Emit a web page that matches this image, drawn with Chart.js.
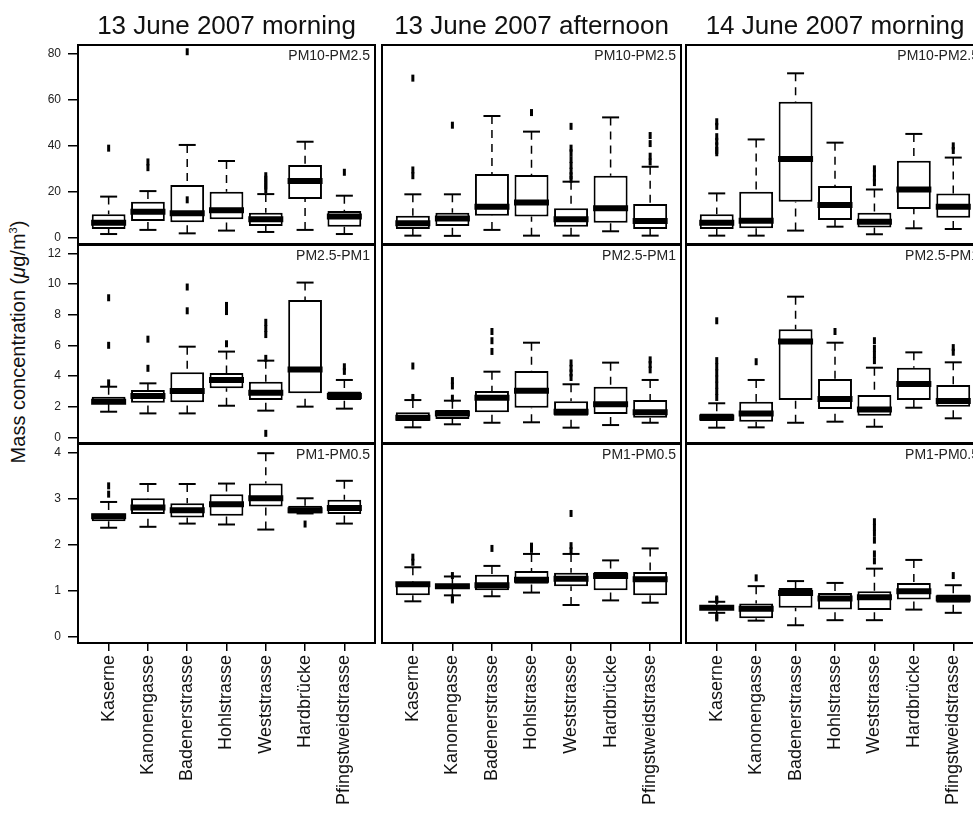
<!DOCTYPE html>
<html>
<head>
<meta charset="utf-8">
<script src="https://cdn.jsdelivr.net/npm/chart.js@4.4.0/dist/chart.umd.min.js"></script>
<style>
  body { margin: 0; background: #fff; overflow: hidden; width: 973px; height: 813px; position: relative;
         font-family: "Liberation Sans", Arial, sans-serif; }
  canvas { position: absolute; }
  #ylab { position: absolute; left: 18px; top: 342px; transform: translate(-50%, -50%) rotate(-90deg);
          white-space: nowrap; font-size: 20px; color: #111; }
  #ylab sup { font-size: 11px; }
</style>
</head>
<body>
<div id="ylab">Mass concentration (<i>μ</i>g/m<sup>3</sup>)</div>
<script>
// categories and panel labels
const sites = ['Kaserne', 'Kanonengasse', 'Badenerstrasse', 'Hohlstrasse', 'Weststrasse', 'Hardbrücke', 'Pfingstweidstrasse'];
const days = ['13 June 2007 morning', '13 June 2007 afternoon', '14 June 2007 morning'];
const fractions = ['PM10-PM2.5', 'PM2.5-PM1', 'PM1-PM0.5'];

// tick labels
const ticksPM10 = [0, 20, 40, 60, 80];
const ticksPM25 = [0, 2, 4, 6, 8, 10, 12];
const ticksPM1 = [0, 1, 2, 3, 4];

// box stats per site: [lower whisker, q1, median, q3, upper whisker]
const pm10_13am = [[1.6, 3.8, 6.5, 10.2, 17.9], [3.4, 7.3, 11.3, 15.7, 20.3], [1.9, 6.7, 10.6, 23, 40.4], [3.1, 8, 12, 20, 33.4], [2.5, 5.1, 8, 10.9, 19], [3.4, 16.9, 24.7, 31.7, 41.8], [1.6, 4.8, 9.2, 11.6, 18.3]];
const pm10_13am_out = [[39], [33, 30.5], [81, 16.5], [], [27, 25.5, 24, 22.5, 21], [], [28.5]];
const pm10_13pm = [[0.9, 3.8, 6.3, 9.6, 18.9], [0.8, 5.1, 8.4, 10.9, 18.9], [3.4, 9.6, 13.5, 27.7, 53], [0.9, 9.2, 15.3, 27.3, 46.2], [0.9, 4.8, 8, 12.8, 24.4], [2.8, 6.5, 12.8, 27, 52.4], [0.9, 3.8, 7.3, 14.7, 30.9]];
const pm10_13pm_out = [[69.5, 29.5, 27], [49], [], [54.5], [48.5, 39, 37, 34, 31.5, 29, 27, 25.5], [], [44.5, 41, 35.5, 33]];
const pm10_14am = [[0.9, 3.8, 6.5, 10.2, 19.3], [0.9, 4.1, 7.4, 20, 42.8], [3.1, 15.7, 34.3, 59.2, 71.6], [4.8, 7.7, 14.2, 22.5, 41.4], [1.5, 4.5, 7, 10.9, 21], [4.1, 12.5, 21, 33.5, 45.2], [3.8, 8.7, 13.5, 19.3, 34.9]];
const pm10_14am_out = [[50.5, 48.5, 44, 42, 40, 38, 37], [], [], [], [30, 28, 26, 24], [], [40, 38]];

const pm25_13am = [[1.67, 2.17, 2.32, 2.65, 3.3], [1.56, 2.26, 2.7, 3.09, 3.52], [1.56, 2.28, 3.02, 4.24, 5.91], [2.06, 3.2, 3.74, 4.2, 5.59], [1.74, 2.43, 2.91, 3.63, 5.0], [2.0, 2.87, 4.43, 8.96, 10.09], [1.87, 2.43, 2.69, 2.98, 3.74]];
const pm25_13am_out = [[9.1, 6.0, 3.55], [6.4, 4.5], [9.8, 8.25], [8.6, 8.2, 6.1], [7.5, 7.1, 6.7, 5.15, 0.26], [], [4.6, 4.3]];
const pm25_13pm = [[0.65, 1.06, 1.28, 1.63, 2.43], [0.85, 1.19, 1.56, 1.78, 2.39], [0.95, 1.63, 2.58, 3.02, 4.28], [0.98, 1.93, 3.04, 4.32, 6.17], [0.63, 1.41, 1.67, 2.35, 3.46], [0.8, 1.52, 2.15, 3.3, 4.87], [0.95, 1.28, 1.63, 2.43, 3.74]];
const pm25_13pm_out = [[4.65, 2.6], [3.7, 3.35, 2.55], [6.9, 6.3, 5.6], [], [4.85, 4.5, 4.2, 3.9], [], [5.05, 4.75, 4.4]];
const pm25_14am = [[0.63, 1.06, 1.3, 1.56, 2.22], [0.65, 1.02, 1.56, 2.32, 3.74], [0.95, 2.43, 6.24, 7.04, 9.17], [1.02, 1.85, 2.5, 3.8, 6.17], [0.69, 1.41, 1.82, 2.76, 4.54], [1.93, 2.43, 3.48, 4.54, 5.54], [1.24, 2.0, 2.37, 3.41, 4.89]];
const pm25_14am_out = [[7.6, 5.0, 4.6, 4.2, 3.8, 3.4, 3.0, 2.6], [4.93], [], [6.9], [6.3, 5.8, 5.4, 5.0], [], [5.85, 5.55]];

const pm1_13am = [[2.37, 2.51, 2.62, 2.68, 2.93], [2.39, 2.67, 2.81, 3.01, 3.32], [2.46, 2.59, 2.75, 2.9, 3.32], [2.44, 2.63, 2.88, 3.1, 3.33], [2.33, 2.83, 3.01, 3.33, 3.99], [2.68, 2.68, 2.75, 2.85, 3.01], [2.46, 2.67, 2.8, 2.98, 3.39]];
const pm1_13am_out = [[3.28, 3.1], [], [], [], [], [2.45], []];
const pm1_13pm = [[0.77, 0.9, 1.14, 1.19, 1.51], [0.9, 1.06, 1.1, 1.15, 1.31], [0.88, 1.01, 1.12, 1.35, 1.54], [0.96, 1.15, 1.24, 1.43, 1.8], [0.69, 1.1, 1.26, 1.39, 1.8], [0.79, 1.01, 1.32, 1.41, 1.66], [0.74, 0.9, 1.25, 1.41, 1.92]];
const pm1_13pm_out = [[1.73, 1.62], [1.33, 0.84, 0.8], [1.92], [1.97, 1.9], [2.68, 1.98, 1.87], [], []];
const pm1_14am = [[0.52, 0.58, 0.63, 0.67, 0.76], [0.35, 0.4, 0.61, 0.72, 1.1], [0.25, 0.63, 0.95, 1.06, 1.21], [0.36, 0.59, 0.83, 0.95, 1.17], [0.36, 0.58, 0.86, 0.99, 1.48], [0.59, 0.81, 0.99, 1.17, 1.67], [0.52, 0.74, 0.83, 0.92, 1.12]];
const pm1_14am_out = [[0.82, 0.79, 0.45, 0.41], [1.28], [], [], [2.5, 2.38, 2.25, 2.1, 1.8, 1.65], [], [1.33]];

const panels = [
  [[pm10_13am, pm10_13am_out], [pm10_13pm, pm10_13pm_out], [pm10_14am, pm10_14am_out]],
  [[pm25_13am, pm25_13am_out], [pm25_13pm, pm25_13pm_out], [pm25_14am, pm25_14am_out]],
  [[pm1_13am, pm1_13am_out], [pm1_13pm, pm1_13pm_out], [pm1_14am, pm1_14am_out]]
];
const yTicks = [ticksPM10, ticksPM25, ticksPM1];
const yLimits = [[-2.74, 83.93], [-0.37, 12.54], [-0.136, 4.19]];

// panel frames in page pixels
const colEdges = [[78, 375], [382, 681], [686, 984]];
const rowEdges = [[45, 244], [245, 443], [444, 643]];

Chart.defaults.font.family = '"Liberation Sans", Arial, sans-serif';
Chart.defaults.color = '#111';

// frame round each panel + fraction label in the corner
const panelFrame = {
  id: 'panelFrame',
  afterDatasetsDraw(chart, args, opts) {
    const { ctx, chartArea: a } = chart;
    ctx.save();
    ctx.strokeStyle = '#000';
    ctx.lineWidth = 2;
    ctx.strokeRect(a.left, a.top, a.right - a.left, a.bottom - a.top);
    ctx.fillStyle = '#222';
    ctx.font = '14px "Liberation Sans", Arial, sans-serif';
    ctx.textAlign = 'right';
    ctx.textBaseline = 'middle';
    ctx.fillText(opts.text, a.right - 5, a.top + 11);
    ctx.restore();
  }
};

function makePanel(r, c) {
  const [stats, outs] = panels[r][c];
  const [L, R] = colEdges[c];
  const [T, B] = rowEdges[r];
  const padL = c === 0 ? 0 : 20, padR = 20, padT = r === 0 ? 0 : 20, padB = r === 2 ? 0 : 20;
  const yW = c === 0 ? 78 : 0, topH = r === 0 ? 45 : 0, botH = r === 2 ? 813 - B : 0;
  const left = L - yW - padL, top = T - topH - padT;

  const cv = document.createElement('canvas');
  cv.width = R + padR - left;
  cv.height = B + botH + padB - top;
  cv.style.left = left + 'px';
  cv.style.top = top + 'px';
  document.body.appendChild(cv);

  const boxes = stats.map((s, i) => ({ x: i, y: [s[1], s[3]] }));
  const medians = stats.map((s, i) => ({ x: i, y: s[2] }));
  const caps = stats.flatMap((s, i) => [{ x: i, y: s[0] }, { x: i, y: s[4] }]);
  const whiskers = stats.flatMap((s, i) => [
    { x: i, y: s[4] }, { x: i, y: s[3] }, { x: i, y: null },
    { x: i, y: s[0] }, { x: i, y: s[1] }, { x: i, y: null }
  ]);
  const outliers = outs.flatMap((o, i) => o.map(v => ({ x: i, y: v })));

  new Chart(cv, {
    type: 'bar',
    data: {
      datasets: [
        { type: 'scatter', data: medians, pointStyle: 'line', pointRadius: 17.5, pointBorderWidth: 6, pointBorderColor: '#000', order: 0 },
        { type: 'scatter', data: outliers, pointStyle: 'line', pointRotation: 90, pointRadius: 3.5, pointBorderWidth: 3, pointBorderColor: '#000', order: 1 },
        { type: 'scatter', data: caps, pointStyle: 'line', pointRadius: 8.5, pointBorderWidth: 2, pointBorderColor: '#000', order: 1 },
        { data: boxes, backgroundColor: '#fff', borderColor: '#000', borderWidth: 2, borderSkipped: false,
          barPercentage: 0.86, categoryPercentage: 1, order: 2 },
        { type: 'line', data: whiskers, borderColor: '#000', borderWidth: 1.5, borderDash: [8, 6], pointRadius: 0, order: 3 }
      ]
    },
    options: {
      responsive: false,
      animation: false,
      events: [],
      layout: { autoPadding: false, padding: { left: padL, right: padR, top: padT, bottom: padB } },
      plugins: {
        legend: { display: false },
        tooltip: { enabled: false },
        panelFrame: { text: fractions[r] }
      },
      scales: {
        x: {
          type: 'linear', min: -0.78, max: 6.78, offset: false, display: r === 2,
          grid: { display: true, drawOnChartArea: false, offset: false, tickLength: 8, color: '#000', lineWidth: 1.5 },
          border: { display: false },
          ticks: { autoSkip: false, maxRotation: 90, minRotation: 90, padding: 4, color: '#111',
                   font: { size: 18 }, callback: v => sites[v] },
          afterBuildTicks: s => { s.ticks = sites.map((_, i) => ({ value: i })); },
          afterFit: s => { s.height = botH; }
        },
        y: {
          min: yLimits[r][0], max: yLimits[r][1], display: c === 0, position: 'left',
          grid: { display: true, drawOnChartArea: false, tickLength: 10, color: '#000', lineWidth: 1.5 },
          border: { display: false },
          ticks: { padding: 7, color: '#222', font: { size: 12 } },
          afterBuildTicks: s => { s.ticks = yTicks[r].map(v => ({ value: v })); },
          afterFit: s => { s.width = yW; }
        },
        t: {
          type: 'linear', position: 'top', display: r === 0,
          grid: { display: false }, border: { display: false }, ticks: { display: false },
          title: { display: true, text: days[c], color: '#111', font: { size: 26 }, padding: { top: 11, bottom: 0 } },
          afterFit: s => { s.height = topH; }
        }
      }
    },
    plugins: [panelFrame]
  });
}

for (let r = 0; r < 3; r++) {
  for (let c = 0; c < 3; c++) makePanel(r, c);
}
</script>
</body>
</html>
